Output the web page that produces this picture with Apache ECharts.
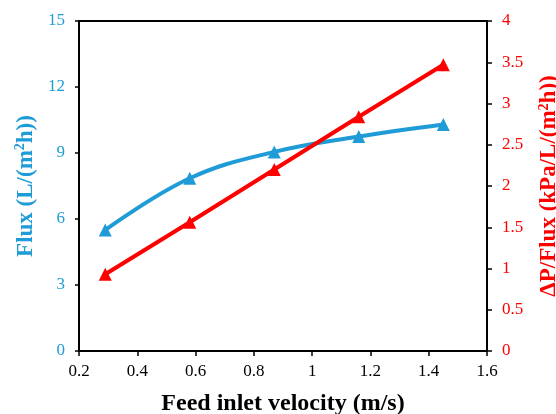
<!DOCTYPE html>
<html><head><meta charset="utf-8">
<script src="https://cdn.jsdelivr.net/npm/echarts@6/dist/echarts.min.js"></script>
<style>html,body{margin:0;padding:0;background:#fff}#c{width:556px;height:414px}</style>
</head><body><div id="c"></div>
<script>
var velocity = [0.29, 0.58, 0.87, 1.16, 1.45];
var flux = [5.5, 7.85, 9.05, 9.75, 10.3];
var dpFlux = [0.93, 1.56, 2.2, 2.84, 3.47];
var BLUE = '#1f9bd7', RED = '#ff0000';
var FONT = '"Liberation Serif", "Times New Roman", serif';
function pairs(xs, ys){ return xs.map(function(x,i){return [x, ys[i]];}); }
function titleStyle(color){
  return {
    fontFamily: FONT, fontWeight: 'bold', fontSize: 23, color: color,
    rich: {
      t: {fontFamily: FONT, fontWeight: 'bold', fontSize: 23, color: color},
      sup: {fontFamily: FONT, fontWeight: 'bold', fontSize: 14, color: color, verticalAlign: 'bottom', padding: [0, 0, 10, 0]}
    }
  };
}
var chart = echarts.init(document.getElementById('c'));
chart.setOption({
  animation: false,
  backgroundColor: '#fff',
  grid: {left: 79, right: 69, top: 21, bottom: 63, show: true, borderColor: '#000', borderWidth: 2, containLabel: false, outerBoundsMode: 'none'},
  xAxis: {
    type: 'value', min: 0.2, max: 1.6, interval: 0.2,
    name: 'Feed inlet velocity (m/s)', nameLocation: 'middle', nameGap: 41,
    nameTextStyle: {fontFamily: FONT, fontWeight: 'bold', fontSize: 24, color: '#000'},
    axisLine: {lineStyle: {color: '#000', width: 2}},
    axisTick: {inside: false, length: 5, lineStyle: {color: '#000', width: 1.5}},
    axisLabel: {fontFamily: FONT, fontSize: 17, color: '#000', margin: 12},
    splitLine: {show: false}
  },
  yAxis: [{
    type: 'value', min: 0, max: 15, interval: 3, position: 'left',
    name: '{t|Flux (L/(m}{sup|2}{t|h))}', nameLocation: 'middle', nameGap: 39, nameRotate: 90,
    nameTextStyle: titleStyle(BLUE),
    axisLine: {show: true, lineStyle: {color: '#000', width: 2}},
    axisTick: {show: true, inside: false, length: 4, lineStyle: {color: '#000', width: 1.5}},
    axisLabel: {fontFamily: FONT, fontSize: 17, color: BLUE, margin: 14},
    splitLine: {show: false}
  }, {
    type: 'value', min: 0, max: 4, interval: 0.5, position: 'right',
    name: '{t|ΔP/Flux (kPa/L/(m}{sup|2}{t|h))}', nameLocation: 'middle', nameGap: 50, nameRotate: 90,
    nameTextStyle: titleStyle(RED),
    axisLine: {show: true, lineStyle: {color: '#000', width: 2}},
    axisTick: {show: true, inside: false, length: 5, lineStyle: {color: '#000', width: 1.5}},
    axisLabel: {fontFamily: FONT, fontSize: 17, color: RED, margin: 15},
    splitLine: {show: false}
  }],
  series: [{
    type: 'line', yAxisIndex: 0, data: pairs(velocity, flux), smooth: 0.4,
    symbol: 'triangle', symbolSize: 13,
    lineStyle: {color: BLUE, width: 4}, itemStyle: {color: BLUE}
  }, {
    type: 'line', yAxisIndex: 1, data: pairs(velocity, dpFlux), smooth: false,
    symbol: 'triangle', symbolSize: 13,
    lineStyle: {color: RED, width: 4}, itemStyle: {color: RED}
  }]
});
</script></body></html>
